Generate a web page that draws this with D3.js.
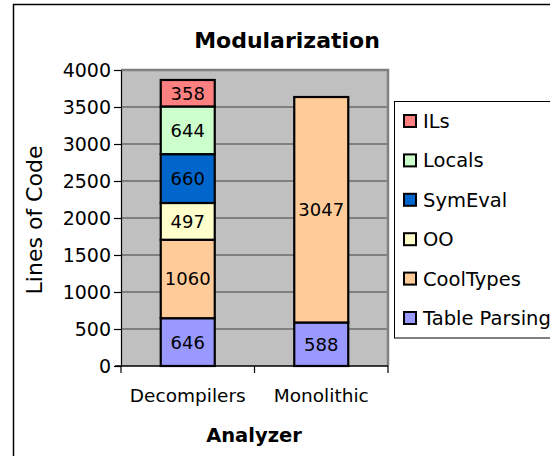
<!DOCTYPE html>
<html><head><meta charset="utf-8">
<script src="https://cdn.jsdelivr.net/npm/d3@7"></script>
<style>body{margin:0;background:#fff}svg{display:block;font-family:"DejaVu Sans",Verdana,sans-serif}</style>
</head><body><svg id="c" width="550" height="456"></svg>
<script>
const categories = ["Decompilers", "Monolithic"];
const seriesNames = ["Table Parsing", "CoolTypes", "OO", "SymEval", "Locals", "ILs"];
const seriesColors = ["#9999FF", "#FFCC99", "#FFFFCC", "#0066CC", "#CCFFCC", "#FF8080"];
const tableParsing = [646, 588];
const coolTypes = [1060, 3047];
const oo = [497, 0];
const symEval = [660, 0];
const locals = [644, 0];
const ils = [358, 0];
const yTicks = [0, 500, 1000, 1500, 2000, 2500, 3000, 3500, 4000];
const seriesValues = [tableParsing, coolTypes, oo, symEval, locals, ils];

const FONT = "DejaVu Sans, Verdana, sans-serif";
const svg = d3.select("#c");
svg.append("rect").attr("x",13.5).attr("y",4.5).attr("width",600).attr("height",500)
  .attr("fill","#fff").attr("stroke","#000").attr("stroke-width",1.5);

const L=121,R=388,T=70,B=366;
const xo = d3.scaleBand().domain(categories).range([L,R]);
const y = d3.scaleLinear().domain([0,4000]).range([B,T]);

svg.append("rect").attr("x",L).attr("y",T).attr("width",R-L).attr("height",B-T).attr("fill","#C0C0C0");
svg.append("g").selectAll("line").data(yTicks.slice(1)).join("line")
  .attr("x1",L).attr("x2",R).attr("y1",d=>y(d)).attr("y2",d=>y(d)).attr("stroke","#404040").attr("stroke-width",1.2);
svg.append("path").attr("d",`M${L},${T}H${R}V${B}`).attr("fill","none").attr("stroke","#808080").attr("stroke-width",2.5);

const rows = categories.map((c,i)=>{const o={cat:c}; seriesNames.forEach((s,j)=>o[s]=seriesValues[j][i]); return o;});
const stack = d3.stack().keys(seriesNames)(rows);
const bw = 54;
stack.forEach((layer,j)=>{
  layer.forEach(d=>{
    const v=d[1]-d[0]; if(v<=0) return;
    const cx = xo(d.data.cat)+xo.bandwidth()/2;
    svg.append("rect").attr("x",cx-bw/2).attr("y",y(d[1])).attr("width",bw).attr("height",y(d[0])-y(d[1]))
      .attr("fill",seriesColors[j]).attr("stroke","#000").attr("stroke-width",2.2);
    svg.append("text").attr("x",cx).attr("y",(y(d[0])+y(d[1]))/2).attr("dy","0.36em").attr("text-anchor","middle")
      .attr("font-size",18).attr("fill","#000").text(v);
  });
});

const ya = d3.axisLeft(y).tickValues(yTicks).tickFormat(d3.format("d")).tickSize(7).tickSizeOuter(0).tickPadding(3);
const gy = svg.append("g").attr("transform",`translate(${L},0)`).call(ya);
gy.attr("font-family",FONT).attr("font-size",19);
gy.selectAll("text").attr("fill","#000");
gy.selectAll("line,path").attr("stroke","#000").attr("stroke-width",1.2);
const xa = d3.axisBottom(xo).tickSize(0).tickPadding(23);
const gx = svg.append("g").attr("transform",`translate(0,${B})`).call(xa);
gx.select("path").remove();
gx.attr("font-family",FONT).attr("font-size",18.5);
gx.selectAll("text").attr("fill","#000");
svg.append("line").attr("x1",L-6).attr("x2",R).attr("y1",B).attr("y2",B).attr("stroke","#000").attr("stroke-width",1.5);
svg.append("g").selectAll("line").data([L, L+xo.bandwidth(), R]).join("line")
  .attr("x1",d=>d).attr("x2",d=>d).attr("y1",B).attr("y2",B+7).attr("stroke","#000").attr("stroke-width",1.2);

svg.append("text").attr("x",287).attr("y",48).attr("text-anchor","middle").attr("font-size",22).attr("font-weight","bold").text("Modularization");
svg.append("text").attr("x",254).attr("y",442).attr("text-anchor","middle").attr("font-size",19.5).attr("font-weight","bold").text("Analyzer");
svg.append("text").attr("transform","translate(42,220) rotate(-90)").attr("text-anchor","middle").attr("font-size",22).text("Lines of Code");

svg.append("rect").attr("x",394.5).attr("y",101.5).attr("width",200).attr("height",236.5).attr("fill","#fff").attr("stroke","#000").attr("stroke-width",1);
const legOrder = seriesNames.slice().reverse();
const lg = svg.append("g").selectAll("g").data(legOrder).join("g")
  .attr("transform",(d,i)=>`translate(404,${121+i*39.4})`);
lg.append("rect").attr("x",0).attr("y",-6).attr("width",12).attr("height",12)
  .attr("fill",d=>seriesColors[seriesNames.indexOf(d)]).attr("stroke","#000").attr("stroke-width",2);
lg.append("text").attr("x",19).attr("dy","0.36em").attr("font-size",19.5).text(d=>d);
</script></body></html>
